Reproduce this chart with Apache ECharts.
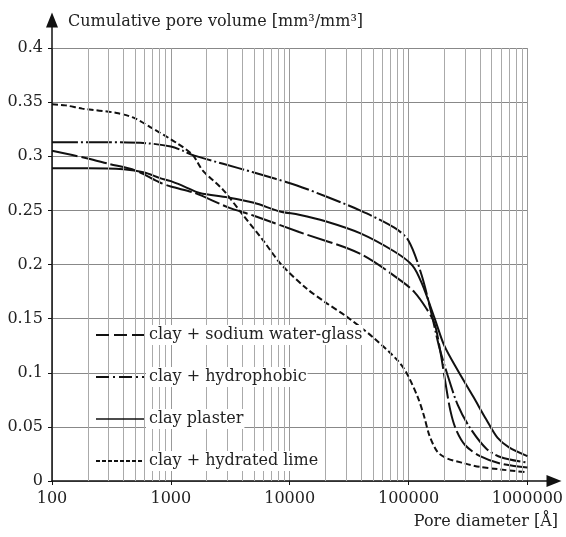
<!DOCTYPE html>
<html>
<head>
<meta charset="utf-8">
<script src="https://cdn.jsdelivr.net/npm/echarts@6/dist/echarts.min.js"></script>
<style>
  html, body { margin: 0; padding: 0; background: #fff; }
  #chart { width: 566px; height: 537px; }
</style>
</head>
<body>
<div id="chart"></div>
<script>
// pore diameter [Å] and cumulative pore volume
let waterGlassX = [100, 200, 300, 500, 800, 1000, 1600, 3000, 5000, 12000, 39000, 89000, 113000, 140000, 165000, 185000, 205000, 225000, 250000, 300000, 400000, 600000, 1000000];
let waterGlassY = [0.305, 0.298, 0.293, 0.287, 0.276, 0.272, 0.266, 0.253, 0.245, 0.23, 0.21, 0.184, 0.174, 0.16, 0.146, 0.12, 0.09, 0.065, 0.048, 0.033, 0.023, 0.016, 0.0125];

let hydrophobicX = [100, 300, 630, 1000, 1270, 1530, 2750, 5000, 11500, 20000, 39000, 76000, 100000, 129000, 158000, 180000, 210000, 260000, 325000, 450000, 600000, 1000000];
let hydrophobicY = [0.313, 0.313, 0.312, 0.309, 0.305, 0.301, 0.293, 0.285, 0.273, 0.263, 0.25, 0.234, 0.222, 0.19, 0.152, 0.125, 0.1, 0.07, 0.05, 0.03, 0.022, 0.017];

let plasterX = [100, 200, 400, 600, 800, 1000, 1300, 1750, 3000, 5000, 8300, 12000, 20000, 39000, 76000, 108000, 130000, 165000, 200000, 257000, 350000, 450000, 560000, 700000, 1000000];
let plasterY = [0.289, 0.289, 0.288, 0.285, 0.28, 0.277, 0.272, 0.266, 0.262, 0.257, 0.249, 0.246, 0.24, 0.229, 0.212, 0.199, 0.182, 0.151, 0.125, 0.103, 0.078, 0.057, 0.04, 0.031, 0.023];

let limeX = [100, 130, 180, 350, 500, 670, 1130, 1530, 1850, 2750, 3900, 6000, 8500, 13800, 20000, 30000, 50000, 80000, 96000, 120000, 135000, 150000, 175000, 210000, 280000, 400000, 1000000];
let limeY = [0.348, 0.347, 0.344, 0.34, 0.335, 0.327, 0.312, 0.301, 0.287, 0.269, 0.248, 0.222, 0.2, 0.178, 0.165, 0.152, 0.133, 0.112, 0.1, 0.077, 0.06, 0.042, 0.027, 0.021, 0.017, 0.013, 0.008];

let seriesNames = ['clay + sodium water-glass', 'clay + hydrophobic', 'clay plaster', 'clay + hydrated lime'];

function zip(xs, ys) {
    return xs.map(function (x, i) { return [x, ys[i]]; });
}

// log grid lines at 2..9 of every decade
let minorLines = [];
for (let d = 100; d < 1000000; d *= 10) {
    for (let m = 2; m <= 9; m++) {
        minorLines.push({ xAxis: d * m });
    }
}

let font = 'DejaVu Serif';
let fontSize = 16;
let ink = '#111';

// legend geometry
let legLeft = 90, legTop = 322, legPad = 5, iconW = 48, rowH = 16, rowGap = 26;

// white boxes behind the legend texts
let ctx = document.createElement('canvas').getContext('2d');
ctx.font = fontSize + 'px "' + font + '"';
let textBoxes = seriesNames.map(function (n, i) {
    let w = ctx.measureText(n).width;
    let cy = legTop + legPad + rowH / 2 + i * (rowH + rowGap);
    return {
        type: 'rect',
        z: 10,
        silent: true,
        shape: { x: legLeft + legPad + iconW + 3, y: cy - 10, width: w + 4, height: 20 },
        style: { fill: '#fff' }
    };
});

let myChart = echarts.init(document.getElementById('chart'));

function lineSeries(name, data, dash) {
    return {
        name: name,
        type: 'line',
        data: data,
        symbol: 'none',
        smooth: 0.3,
        z: 3,
        itemStyle: { color: ink },
        lineStyle: { color: ink, width: 2, type: dash }
    };
}

// legend samples use shorter dashes, like the figure
let legendDash = [[13, 5], [13, 4, 2, 4], 'solid', [4, 2]];

let option = {
    animation: false,
    backgroundColor: '#fff',
    textStyle: { fontFamily: font },
    grid: [
        { left: 52, right: 38, top: 48, bottom: 56 },
        { left: 52, right: 12, top: 20, bottom: 56 }
    ],
    graphic: { elements: textBoxes, z: 10 },
    legend: {
        data: seriesNames.map(function (n, i) {
            return { name: n, lineStyle: { type: legendDash[i], color: ink, width: i === 2 ? 1.5 : 2 } };
        }),
        orient: 'vertical',
        left: legLeft,
        top: legTop,
        padding: legPad,
        itemWidth: iconW,
        itemHeight: rowH,
        itemGap: rowGap,
        z: 20,
        itemStyle: { color: 'rgba(0,0,0,0)', opacity: 0, borderWidth: 0 },
        textStyle: { fontFamily: font, fontSize: fontSize, color: '#222' }
    },
    xAxis: [
        {
            type: 'log',
            logBase: 10,
            min: 100,
            max: 1000000,
            gridIndex: 0,
            axisLine: { show: false },
            axisTick: { show: true, length: 4, lineStyle: { color: ink } },
            axisLabel: {
                margin: 10,
                fontSize: fontSize,
                fontFamily: font,
                color: '#222',
                formatter: function (v) { return String(Math.round(v)); }
            },
            splitLine: { show: true, lineStyle: { color: '#999', width: 1 } }
        },
        {
            type: 'value',
            gridIndex: 1,
            min: 0,
            max: 1,
            name: 'Pore diameter [Å]',
            nameLocation: 'end',
            nameGap: 4,
            nameTextStyle: { fontFamily: font, fontSize: fontSize, color: '#222', align: 'right', verticalAlign: 'top', padding: [33, 0, 0, 0] },
            axisLine: { show: true, lineStyle: { color: ink, width: 1.5 }, symbol: ['none', 'triangle'], symbolSize: [12, 15] },
            axisTick: { show: false },
            axisLabel: { show: false },
            splitLine: { show: false }
        }
    ],
    yAxis: [
        {
            type: 'value',
            min: 0,
            max: 0.4,
            interval: 0.05,
            gridIndex: 0,
            axisLine: { show: false },
            axisTick: { show: true, length: 4, lineStyle: { color: ink } },
            axisLabel: { margin: 9, fontSize: fontSize, fontFamily: font, color: '#222' },
            splitLine: { show: true, lineStyle: { color: '#888', width: 1 } }
        },
        {
            type: 'value',
            gridIndex: 1,
            min: 0,
            max: 1,
            name: 'Cumulative pore volume [mm³/mm³]',
            nameLocation: 'end',
            nameGap: -2,
            nameTextStyle: { fontFamily: font, fontSize: fontSize, color: '#222', align: 'left', verticalAlign: 'middle', padding: [0, 0, 0, 16] },
            axisLine: { show: true, lineStyle: { color: ink, width: 1.5 }, symbol: ['none', 'triangle'], symbolSize: [12, 15] },
            axisTick: { show: false },
            axisLabel: { show: false },
            splitLine: { show: false }
        }
    ],
    series: [
        {
            name: 'minor-grid',
            type: 'line',
            data: [],
            z: 1,
            silent: true,
            markLine: {
                silent: true,
                symbol: ['none', 'none'],
                label: { show: false },
                lineStyle: { color: '#aaa', type: 'solid', width: 1 },
                data: minorLines
            }
        },
        lineSeries(seriesNames[0], zip(waterGlassX, waterGlassY), [26, 4]),
        lineSeries(seriesNames[1], zip(hydrophobicX, hydrophobicY), [26, 3, 2, 3]),
        lineSeries(seriesNames[2], zip(plasterX, plasterY), 'solid'),
        lineSeries(seriesNames[3], zip(limeX, limeY), [6, 3])
    ]
};

myChart.setOption(option);
</script>
</body>
</html>
